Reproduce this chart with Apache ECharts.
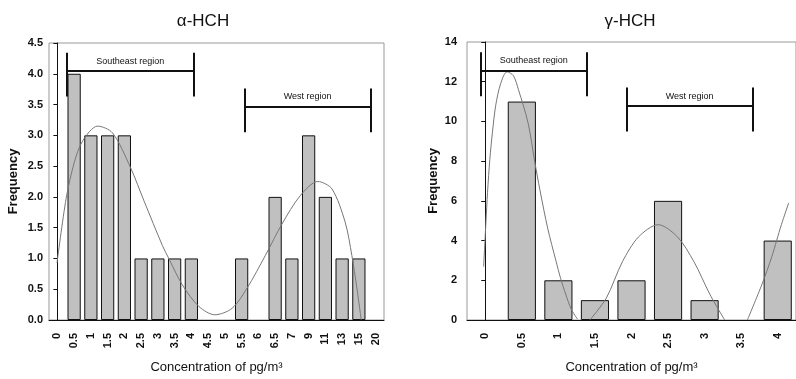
<!DOCTYPE html>
<html>
<head>
<meta charset="utf-8">
<script src="https://cdn.jsdelivr.net/npm/echarts@6/dist/echarts.min.js"></script>
<style>
html, body { margin: 0; padding: 0; background: #fff; overflow: hidden; }
#chart { width: 796px; height: 379px; }
</style>
</head>
<body>
<div id="chart"></div>
<script>
// alpha-HCH histogram
var alphaBins = ['0', '0.5', '1', '1.5', '2', '2.5', '3', '3.5', '4', '4.5', '5', '5.5', '6', '6.5', '7', '9', '11', '13', '15', '20'];
var alphaFreq = [0, 4, 3, 3, 3, 1, 1, 1, 1, 0, 0, 1, 0, 2, 1, 3, 2, 1, 1, 0];
// fitted curve, x given in bin positions
var alphaCurve = [[-0.02, 0.93], [0.52, 1.97], [1.01, 2.56], [1.51, 2.91], [2.4, 3.15], [3.29, 3.04], [4.36, 2.48],
    [5.18, 1.93], [6.27, 1.21], [6.67, 0.99], [7.46, 0.57], [8.45, 0.22], [9.4, 0.085], [10.43, 0.19], [11.33, 0.52],
    [12.42, 1.05], [13.41, 1.56], [14.5, 2.02], [15.55, 2.25], [16.39, 2.13], [17.18, 1.59], [17.58, 1.05], [17.88, 0.52], [18.14, 0]];
var alphaRegions = [['Southeast region', 0.54, 8.15, 4.05], ['West region', 11.19, 18.69, 3.47]];

// gamma-HCH histogram
var gammaBins = ['0', '0.5', '1', '1.5', '2', '2.5', '3', '3.5', '4'];
var gammaFreq = [0, 11, 2, 1, 2, 6, 1, 0, 4];
var gammaCurveA = [[-0.045, 2.68], [0.018, 4.93], [0.062, 6.43], [0.125, 8.1], [0.195, 9.43], [0.285, 10.8], [0.42, 11.9],
    [0.595, 12.5], [0.77, 12.3], [0.907, 11.6], [1.17, 9.93], [1.35, 8.0], [1.5, 6.5], [1.71, 4.6], [1.93, 3.0],
    [2.06, 2.1], [2.2, 1.3], [2.35, 0.55], [2.52, 0.05]];
var gammaCurveB = [[2.86, 0], [3.31, 1.1], [3.75, 2.93], [4.19, 4.18], [4.73, 4.8], [5.26, 4.18], [5.71, 2.93], [6.15, 1.27], [6.55, 0]];
var gammaCurveC = [[7.17, 0], [7.57, 1.8], [7.84, 3.2], [7.97, 4.0], [8.1, 4.8], [8.3, 5.9]];
var gammaRegions = [['Southeast region', -0.115, 2.77, 12.57], ['West region', 3.87, 7.31, 10.8]];

var chartDom = document.getElementById('chart');
var chartInstance = echarts.init(chartDom, null, { renderer: 'canvas' });

var sansFont = "'Liberation Sans', Arial, sans-serif";

// empty bins get no bar at all
function barData(freq) {
    return freq.map(function (v) { return v === 0 ? '-' : v; });
}

function bracketLines(regions, yMax) {
    var up = yMax * 0.065;
    var down = yMax * 0.093;
    var lines = [];
    for (var i = 0; i < regions.length; i++) {
        var r = regions[i];
        lines.push([
            { coord: [r[1], r[3]], label: { show: true, formatter: r[0] } },
            { coord: [r[2], r[3]] }
        ]);
        lines.push([{ coord: [r[1], r[3] + up] }, { coord: [r[1], r[3] - down] }]);
        lines.push([{ coord: [r[2], r[3] + up] }, { coord: [r[2], r[3] - down] }]);
    }
    return {
        silent: true,
        animation: false,
        symbol: ['none', 'none'],
        lineStyle: { color: '#111', width: 2, type: 'solid' },
        label: {
            show: false,
            position: 'middle',
            distance: 5,
            color: '#111',
            fontFamily: sansFont,
            fontSize: 9
        },
        emphasis: { disabled: true },
        data: lines
    };
}

function categoryAxis(grid, bins) {
    return {
        type: 'category',
        gridIndex: grid,
        data: bins,
        axisLine: { show: true, lineStyle: { color: '#111', width: 1 } },
        axisTick: { show: false },
        axisLabel: {
            interval: 0,
            rotate: 90,
            margin: 13,
            color: '#111',
            fontFamily: sansFont,
            fontWeight: 'bold',
            fontSize: 11
        },
        splitLine: { show: false },
        name: 'Concentration of pg/m³',
        nameLocation: 'middle',
        nameGap: 41,
        nameTextStyle: { color: '#111', fontFamily: sansFont, fontSize: 13 }
    };
}

function valueAxis(grid, max, interval, decimals, gap, margin) {
    return {
        type: 'value',
        gridIndex: grid,
        min: 0,
        max: max,
        interval: interval,
        axisLine: { show: true, lineStyle: { color: '#111', width: 1 } },
        axisTick: { show: true, length: 4, lineStyle: { color: '#111' } },
        axisLabel: {
            margin: margin,
            color: '#111',
            fontFamily: sansFont,
            fontWeight: 'bold',
            fontSize: 11,
            formatter: function (v) { return v.toFixed(decimals); }
        },
        splitLine: { show: false },
        name: 'Frequency',
        nameLocation: 'middle',
        nameRotate: 90,
        nameGap: gap,
        nameTextStyle: { color: '#111', fontFamily: sansFont, fontWeight: 'bold', fontSize: 13 }
    };
}

function curveSeries(xIdx, yIdx, data, markLine) {
    var s = {
        type: 'line',
        xAxisIndex: xIdx,
        yAxisIndex: yIdx,
        data: data,
        smooth: 0.3,
        symbol: 'none',
        silent: true,
        z: 3,
        lineStyle: { color: '#777', width: 1 }
    };
    if (markLine) s.markLine = markLine;
    return s;
}

var barStyle = { color: '#c0c0c0', borderColor: '#111', borderWidth: 1 };

var chartOption = {
    animation: false,
    backgroundColor: '#fff',
    title: [
        { text: 'α-HCH', left: 198, top: 8, textAlign: 'center',
          textStyle: { color: '#111', fontFamily: sansFont, fontWeight: 'normal', fontSize: 17 } },
        { text: 'γ-HCH', left: 625, top: 8, textAlign: 'center',
          textStyle: { color: '#111', fontFamily: sansFont, fontWeight: 'normal', fontSize: 17 } }
    ],
    grid: [
        { left: 49, top: 43, width: 335, height: 279, show: true, borderColor: '#999', borderWidth: 1, backgroundColor: 'transparent' },
        { left: 467, top: 42, width: 337.5, height: 280, show: true, borderColor: '#999', borderWidth: 1, backgroundColor: 'transparent' }
    ],
    xAxis: [
        categoryAxis(0, alphaBins),
        categoryAxis(1, gammaBins),
        { type: 'value', gridIndex: 0, min: -0.5, max: alphaBins.length - 0.5, show: false },
        { type: 'value', gridIndex: 1, min: -0.5, max: gammaBins.length - 0.5, show: false }
    ],
    yAxis: [
        valueAxis(0, 4.5, 0.5, 1, 29, 6),
        valueAxis(1, 14, 2, 0, 27, 10)
    ],
    series: [
        { type: 'bar', xAxisIndex: 0, yAxisIndex: 0, data: barData(alphaFreq), barCategoryGap: '21%', itemStyle: barStyle, silent: true },
        { type: 'bar', xAxisIndex: 1, yAxisIndex: 1, data: barData(gammaFreq), barCategoryGap: '23%', itemStyle: barStyle, silent: true },
        curveSeries(2, 0, alphaCurve, bracketLines(alphaRegions, 4.5)),
        curveSeries(3, 1, gammaCurveA, bracketLines(gammaRegions, 14)),
        curveSeries(3, 1, gammaCurveB),
        curveSeries(3, 1, gammaCurveC)
    ]
};

chartInstance.setOption(chartOption);
</script>
</body>
</html>
